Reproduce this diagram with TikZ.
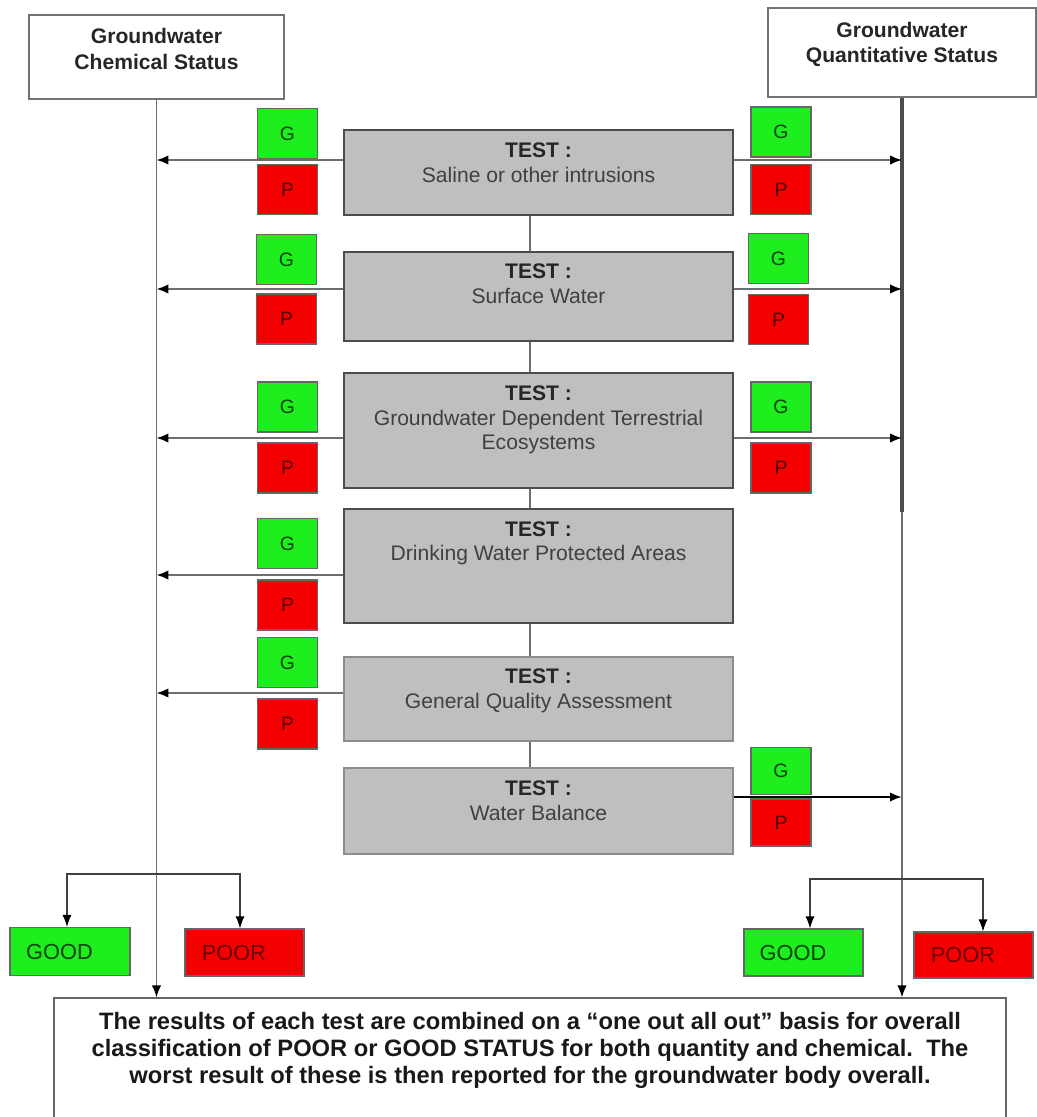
\documentclass[tikz,border=0pt]{standalone}
\usepackage{fontspec}
\setmainfont{Liberation Sans}
\usetikzlibrary{arrows.meta,calc}
\definecolor{gfill}{RGB}{30,238,30}
\definecolor{rfill}{RGB}{245,0,0}
\definecolor{tfill}{RGB}{191,191,191}
\definecolor{lngray}{RGB}{110,110,110}
\begin{document}
\begin{tikzpicture}[x=0.02cm,y=-0.02cm,
  headbox/.style={draw=black!55, fill=white, line width=0.8pt, inner sep=0pt},
  testbox/.style={draw=black!70, fill=tfill, line width=0.8pt, minimum width=7.78cm, inner sep=0pt},
  inlabel/.style={anchor=north, inner sep=0pt, align=center, font=\fontsize{12}{13.9}\selectfont, text=black!75},
  gbox/.style={draw=black!60, fill=gfill, line width=0.6pt, minimum width=1.2cm, minimum height=1.0cm, inner sep=0pt, font=\fontsize{11}{13}\selectfont, text=green!25!black},
  pbox/.style={draw=black!60, fill=rfill, line width=0.6pt, minimum width=1.2cm, minimum height=1.0cm, inner sep=0pt, font=\fontsize{11}{13}\selectfont, text=red!30!black},
  goodbox/.style={draw=black!60, fill=gfill, line width=0.6pt, minimum width=2.4cm, minimum height=0.96cm, inner sep=0pt, font=\fontsize{12.4}{14}\selectfont, text=green!25!black},
  poorbox/.style={draw=black!60, fill=rfill, line width=0.6pt, minimum width=2.38cm, minimum height=0.94cm, inner sep=0pt, font=\fontsize{12.4}{14}\selectfont, text=red!40!black},
  vline/.style={draw=lngray, line width=0.8pt},
  tip/.style={-{Latex[length=0.24cm,width=0.19cm,color=black,fill=black]}},
  harrow/.style={draw=lngray, line width=1pt, tip},
  cline/.style={draw=lngray, line width=0.8pt},
  fork/.style={draw=black!75, line width=0.7pt, {Latex[length=0.24cm,width=0.18cm,color=black,fill=black]}-{Latex[length=0.24cm,width=0.18cm,color=black,fill=black]}}
]
\useasboundingbox (0,0) rectangle (1037,1117);
\fill[white] (0,0) rectangle (1037,1117);

% header boxes
\node[headbox, minimum width=5.1cm, minimum height=1.68cm] (lhead) at (156.5,57) {};
\node[inlabel, font=\bfseries\fontsize{12}{14.6}\selectfont, text=black!85] (lheadtxt) at ([yshift=-0.27cm]lhead.north) {Groundwater\\Chemical Status};
\node[headbox, minimum width=5.36cm, minimum height=1.78cm] (rhead) at (902,52.5) {};
\node[inlabel, font=\bfseries\fontsize{12}{14.2}\selectfont, text=black!85] (rheadtxt) at ([yshift=-0.29cm]rhead.north) {Groundwater\\Quantitative Status};

% bottom box
\node[draw=black!60, fill=white, line width=0.8pt, minimum width=19.04cm, minimum height=2.84cm, inner sep=0pt] (bottom) at (530,1069) {};
\node[inlabel, font=\bfseries\fontsize{13.5}{15.3}\selectfont, text=black!90] (btxt) at ([yshift=-0.3cm]bottom.north) {The results of each test are combined on a “one out all out” basis for overall\\classification of POOR or GOOD STATUS for both quantity and chemical.\ \ The\\worst result of these is then reported for the groundwater body overall.};

% test boxes
\node[testbox, minimum height=1.7cm] (t1) at (538.5,172.5) {};
\node[testbox, minimum height=1.78cm] (t2) at (538.5,296.5) {};
\node[testbox, minimum height=2.3cm] (t3) at (538.5,430.5) {};
\node[testbox, minimum height=2.28cm] (t4) at (538.5,566) {};
\node[testbox, draw=black!45, minimum height=1.68cm] (t5) at (538.5,699) {};
\node[testbox, draw=black!45, minimum height=1.72cm] (t6) at (538.5,811) {};

\node[inlabel] (t1txt) at ([yshift=-0.27cm]t1.north) {\textbf{\color{black!85}TEST :}\\Saline or other intrusions};
\node[inlabel] (t2txt) at ([yshift=-0.25cm]t2.north) {\textbf{\color{black!85}TEST :}\\Surface Water};
\node[inlabel] (t3txt) at ([yshift=-0.27cm]t3.north) {\textbf{\color{black!85}TEST :}\\Groundwater Dependent Terrestrial\\Ecosystems};
\node[inlabel] (t4txt) at ([yshift=-0.26cm]t4.north) {\textbf{\color{black!85}TEST :}\\Drinking Water Protected Areas};
\node[inlabel] (t5txt) at ([yshift=-0.25cm]t5.north) {\textbf{\color{black!85}TEST :}\\General Quality Assessment};
\node[inlabel] (t6txt) at ([yshift=-0.27cm]t6.north) {\textbf{\color{black!85}TEST :}\\Water Balance};

% central connectors
\coordinate (cx) at (530,0);
\draw[cline] (t1.south -| cx) -- (t2.north -| cx);
\draw[cline] (t2.south -| cx) -- (t3.north -| cx);
\draw[cline] (t3.south -| cx) -- (t4.north -| cx);
\draw[cline] (t4.south -| cx) -- (t5.north -| cx);
\draw[cline] (t5.south -| cx) -- (t6.north -| cx);

% G / P boxes left
\node[gbox] (g1l) at (287.5,133.5) {G};
\node[pbox] (p1l) at (287.5,189.5) {P};
\node[gbox] (g2l) at (286.5,259.5) {G};
\node[pbox] (p2l) at (286.5,319) {P};
\node[gbox] (g3l) at (287.5,407) {G};
\node[pbox] (p3l) at (287.5,468) {P};
\node[gbox] (g4l) at (287.5,543.5) {G};
\node[pbox] (p4l) at (287.5,605) {P};
\node[gbox] (g5l) at (287.5,662.5) {G};
\node[pbox] (p5l) at (287.5,724) {P};
% G / P boxes right
\node[gbox] (g1r) at (781,132) {G};
\node[pbox] (p1r) at (781,189.5) {P};
\node[gbox] (g2r) at (778.5,258.5) {G};
\node[pbox] (p2r) at (778.5,319.5) {P};
\node[gbox] (g3r) at (781,407) {G};
\node[pbox] (p3r) at (781,468) {P};
\node[gbox, minimum height=0.93cm] (g6r) at (781,771) {G};
\node[pbox, minimum height=0.94cm] (p6r) at (781,822.5) {P};

% main vertical lines
\coordinate (rmid) at (903,512);
\draw[vline, tip] (lhead.south) -- (lhead.south |- bottom.north);
\draw[draw=black!70, line width=1.8pt] (rhead.south) -- (rhead.south |- rmid);
\draw[vline, tip] (rhead.south |- rmid) -- (rhead.south |- bottom.north);

% horizontal arrows
\coordinate (y1) at (0,160);
\coordinate (y2) at (0,289);
\coordinate (y3) at (0,438);
\coordinate (y4) at (0,575);
\coordinate (y5) at (0,693);
\coordinate (y6) at (0,797);
\draw[harrow] (t1.west |- y1) -- (lhead.south |- y1);
\draw[harrow] (t2.west |- y2) -- (lhead.south |- y2);
\draw[harrow] (t3.west |- y3) -- (lhead.south |- y3);
\draw[harrow] (t4.west |- y4) -- (lhead.south |- y4);
\draw[harrow] (t5.west |- y5) -- (lhead.south |- y5);
\draw[harrow] (t1.east |- y1) -- (rhead.south |- y1);
\draw[harrow] (t2.east |- y2) -- (rhead.south |- y2);
\draw[harrow] (t3.east |- y3) -- (rhead.south |- y3);
\draw[harrow, draw=black, line width=1.3pt] (t6.east |- y6) -- (rhead.south |- y6);

% result boxes
\node[goodbox] (lgood) at (70,951.5) {GOOD\rule{0.42cm}{0pt}};
\node[poorbox] (lpoor) at (244.5,952.5) {POOR\rule{0.42cm}{0pt}};
\node[goodbox, minimum width=2.38cm, minimum height=0.94cm] (rgood) at (803.5,952.5) {GOOD\rule{0.42cm}{0pt}};
\node[poorbox, minimum height=0.92cm] (rpoor) at (973.5,955) {POOR\rule{0.42cm}{0pt}};

% forks
\coordinate (lf1) at (67,874);
\coordinate (lf2) at (240,874);
\coordinate (rf1) at (810,879);
\coordinate (rf2) at (983,879);
\draw[fork] (lgood.north -| lf1) -- (lf1) -- (lf2) -- (lpoor.north -| lf2);
\draw[fork] (rgood.north -| rf1) -- (rf1) -- (rf2) -- (rpoor.north -| rf2);
\end{tikzpicture}
\end{document}
